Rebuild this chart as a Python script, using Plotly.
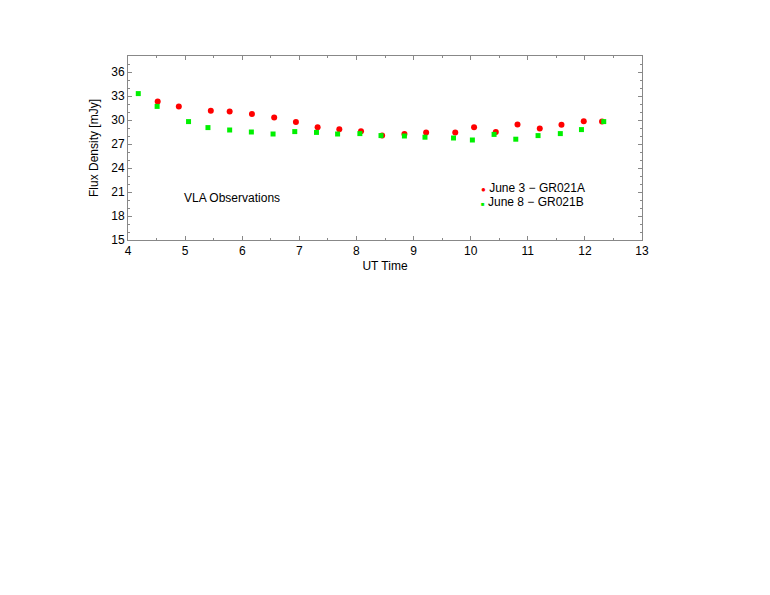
import plotly.graph_objects as go

# June 3 - GR021A (red circles)
ut_june3 = [4.52, 4.89, 5.45, 5.78, 6.17, 6.56, 6.94, 7.32, 7.70, 8.08,
            8.45, 8.84, 9.22, 9.73, 10.06, 10.44, 10.82, 11.21, 11.59, 11.98, 12.30]
flux_june3 = [32.3, 31.7, 31.15, 31.05, 30.75, 30.3, 29.75, 29.1, 28.85, 28.6,
              28.05, 28.25, 28.45, 28.45, 29.1, 28.5, 29.45, 28.95, 29.4, 29.85, 29.8]

# June 8 - GR021B (green squares)
ut_june8 = [4.18, 4.51, 5.06, 5.40, 5.78, 6.16, 6.54, 6.92, 7.30, 7.67, 8.06,
            8.43, 8.84, 9.20, 9.70, 10.03, 10.41, 10.79, 11.18, 11.57, 11.94, 12.33]
flux_june8 = [33.3, 31.7, 29.8, 29.05, 28.75, 28.5, 28.25, 28.55, 28.45, 28.25, 28.3,
              28.05, 28.0, 27.85, 27.75, 27.5, 28.2, 27.6, 28.05, 28.3, 28.8, 29.8]

x_ticks = list(range(4, 14))
y_ticks = [15, 18, 21, 24, 27, 30, 33, 36]

font = "Liberation Sans, Arial, Helvetica, sans-serif"

fig = go.Figure()
fig.add_trace(go.Scatter(x=ut_june3, y=flux_june3, mode='markers', name='June 3 − GR021A',
                         marker=dict(symbol='circle', size=6, color='#ff0000')))
fig.add_trace(go.Scatter(x=ut_june8, y=flux_june8, mode='markers', name='June 8 − GR021B',
                         marker=dict(symbol='square', size=5, color='#00f000')))

axis_common = dict(showline=True, linecolor='#888888', linewidth=1, mirror='ticks',
                   ticks='inside', ticklen=4, tickcolor='#888888', showgrid=False,
                   zeroline=False, tickfont=dict(size=12, color='black', family=font))

fig.update_xaxes(range=[4, 13], tickvals=x_ticks,
                 minor=dict(dtick=0.5, tick0=4, ticks='inside', ticklen=2, tickcolor='#888888'),
                 title=dict(text='UT Time', font=dict(size=12, color='black', family=font), standoff=4),
                 **axis_common)
fig.update_yaxes(range=[15, 38], tickvals=y_ticks,
                 minor=dict(dtick=1, tick0=15, ticks='inside', ticklen=2, tickcolor='#888888'),
                 title=dict(text='Flux Density [mJy]', font=dict(size=12, color='black', family=font), standoff=10),
                 **axis_common)

fig.add_annotation(x=4.94, y=20.3, text='VLA Observations', showarrow=False,
                   xanchor='left', yanchor='middle', font=dict(size=12, color='black', family=font))
fig.add_annotation(x=10.15, y=21.55, xref='x', yref='y', showarrow=False, xanchor='left', yanchor='middle',
                   text="<span style='color:#ff0000;font-size:8px'>●</span> June 3 − GR021A",
                   font=dict(size=12, color='black', family=font))
fig.add_annotation(x=10.15, y=19.8, xref='x', yref='y', showarrow=False, xanchor='left', yanchor='middle',
                   text="<span style='color:#00f000;font-size:6px'>■</span> June 8 − GR021B",
                   font=dict(size=12, color='black', family=font))

fig.update_layout(width=770, height=595, showlegend=False,
                  margin=dict(l=120, r=136, t=48, b=363),
                  paper_bgcolor='white', plot_bgcolor='white',
                  font=dict(family=font, size=12, color='black'))

fig.write_html("out.html")
